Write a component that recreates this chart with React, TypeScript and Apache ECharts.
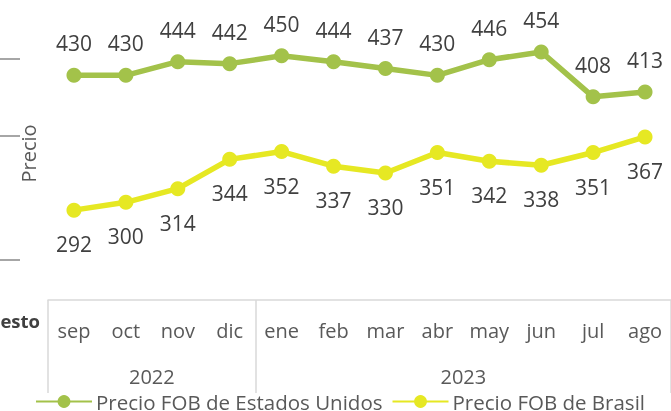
import React, { useEffect, useRef } from "react";
import * as echarts from "echarts";

const months = ["sep", "oct", "nov", "dic", "ene", "feb", "mar", "abr", "may", "jun", "jul", "ago"];
const usPrice = [430, 430, 444, 442, 450, 444, 437, 430, 446, 454, 408, 413];
const brPrice = [292, 300, 314, 344, 352, 337, 330, 351, 342, 338, 351, 367];
const years = ["2022", "2023"];
const yearCounts = [4, 8];
const seriesNames = ["Precio FOB de Estados Unidos", "Precio FOB de Brasil"];

const FONT = "Open Sans";

export default function App() {
  const ref = useRef<HTMLDivElement>(null);
  useEffect(() => {
    if (!ref.current) return;
    const chart = echarts.init(ref.current, null, { renderer: "svg" });

    const boundaries: number[] = [];
    const centers: number[] = [];
    const centerName: Record<string, string> = {};
    let start = 0;
    years.forEach((y, i) => {
      boundaries.push(start - 0.5);
      const c = start + (yearCounts[i] - 1) / 2;
      centers.push(c);
      centerName[String(c)] = y;
      start += yearCounts[i];
    });
    boundaries.push(start - 0.5);

    chart.setOption({
      animation: false,
      textStyle: { fontFamily: FONT },
      grid: { left: 48, top: 7, width: 626, height: 293 },
      legend: {
        left: 35,
        top: 391,
        padding: 0,
        itemWidth: 56,
        itemHeight: 16,
        itemGap: 9,
        textStyle: {
          fontFamily: FONT,
          fontSize: 20.5,
          lineHeight: 20,
          color: "#595959",
          padding: [0, 0, 0, -1],
        },
        data: seriesNames,
      },
      xAxis: [
        {
          type: "category",
          data: months,
          boundaryGap: true,
          axisLine: { show: true, lineStyle: { color: "#D9D9D9", width: 1.5 } },
          axisTick: { show: false },
          axisLabel: { interval: 0, margin: 20, fontSize: 20, color: "#595959", fontFamily: FONT },
        },
        {
          type: "value",
          position: "bottom",
          min: -0.5,
          max: months.length - 0.5,
          axisLine: { show: false },
          splitLine: { show: false },
          axisTick: {
            show: true,
            customValues: boundaries,
            length: 93,
            lineStyle: { color: "#D9D9D9", width: 1.5 },
          },
          axisLabel: {
            customValues: centers,
            margin: 66,
            fontSize: 20,
            color: "#595959",
            fontFamily: FONT,
            formatter: (v: number) => centerName[String(v)] ?? "",
          },
        },
      ],
      yAxis: {
        type: "value",
        min: 200,
        max: 500,
        axisLine: { show: false },
        axisTick: { show: false },
        axisLabel: { show: false },
        splitLine: { show: false },
        name: "Precio",
        nameLocation: "middle",
        nameGap: 10,
        nameTextStyle: { fontSize: 20, color: "#595959", fontFamily: FONT },
      },
      graphic: [
        { type: "line", shape: { x1: 0, y1: 59, x2: 20, y2: 59 }, style: { stroke: "#A6A6A6", lineWidth: 2 } },
        { type: "line", shape: { x1: 0, y1: 136, x2: 20, y2: 136 }, style: { stroke: "#A6A6A6", lineWidth: 2 } },
        { type: "line", shape: { x1: 0, y1: 260, x2: 20, y2: 260 }, style: { stroke: "#A6A6A6", lineWidth: 2 } },
        {
          type: "text",
          x: 40,
          y: 320,
          style: {
            text: "esto",
            align: "right",
            verticalAlign: "middle",
            fontFamily: FONT,
            fontWeight: "bold",
            fontSize: 18.5,
            fill: "#404040",
          },
        },
      ],
      series: [
        {
          name: seriesNames[0],
          type: "line",
          data: usPrice,
          symbol: "circle",
          symbolSize: 15,
          itemStyle: { color: "#A3C24A" },
          lineStyle: { color: "#A3C24A", width: 5.5 },
          label: {
            show: true,
            position: "top",
            distance: 14,
            fontSize: 21,
            color: "#404040",
            fontFamily: FONT,
          },
        },
        {
          name: seriesNames[1],
          type: "line",
          data: brPrice,
          symbol: "circle",
          symbolSize: 15,
          itemStyle: { color: "#E6E823" },
          lineStyle: { color: "#E6E823", width: 5.5 },
          label: {
            show: true,
            position: "bottom",
            distance: 16,
            fontSize: 21,
            color: "#404040",
            fontFamily: FONT,
          },
        },
      ],
    });
    return () => chart.dispose();
  }, []);
  return <div ref={ref} style={{ position: "fixed", left: 0, top: 0, width: 671, height: 411 }} />;
}
